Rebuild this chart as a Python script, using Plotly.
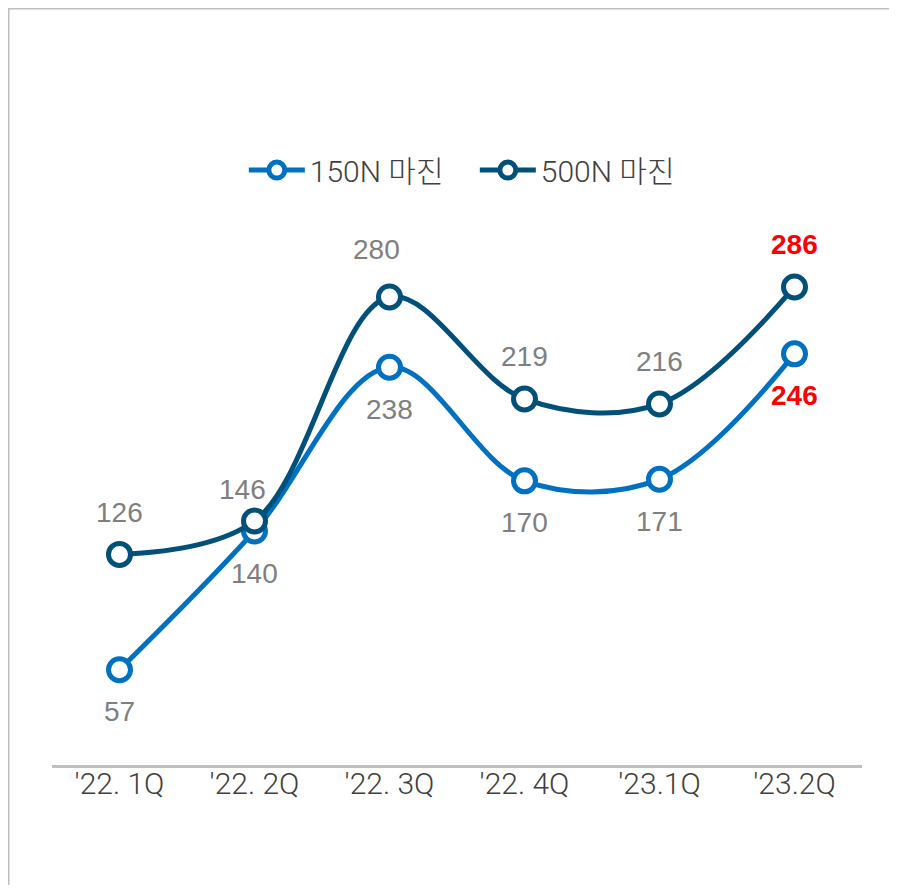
import plotly.graph_objects as go

# données
quarters = ["'22. 1Q", "'22. 2Q", "'22. 3Q", "'22. 4Q", "'23.1Q", "'23.2Q"]
margin_150n = [57, 140, 238, 170, 171, 246]
margin_500n = [126, 146, 280, 219, 216, 286]
series_names = ["150N 마진", "500N 마진"]

color_150 = "#0070C0"
color_500 = "#00507A"
label_gray = "#7F7F7F"
text_dark = "#404040"
font_light = "Roboto, Noto Sans CJK KR, sans-serif"
font_labels = "Liberation Sans, Arial, sans-serif"

fig = go.Figure()

for name, vals, col in [(series_names[0], margin_150n, color_150),
                        (series_names[1], margin_500n, color_500)]:
    fig.add_trace(go.Scatter(
        x=quarters, y=vals, name=name,
        mode="lines+markers",
        line=dict(color=col, width=5, shape="spline", smoothing=1),
        marker=dict(size=22, color="white", line=dict(color=col, width=5)),
    ))

# étiquettes de valeurs
annotations = []
last = len(quarters) - 1
for i, (q, v) in enumerate(zip(quarters, margin_150n)):
    red = i == last
    annotations.append(dict(
        x=q, y=v, xref="x", yref="y", text=f"<b>{v}</b>" if red else str(v),
        showarrow=False, yshift=-42,
        font=dict(family=font_labels, size=28,
                  color="#FF0000" if red else label_gray)))
xshifts = [0, -12, -13, 0, 0, 0]
yshifts = [42, 31, 48, 42, 42, 42]
for i, (q, v) in enumerate(zip(quarters, margin_500n)):
    red = i == last
    annotations.append(dict(
        x=q, y=v, xref="x", yref="y", text=f"<b>{v}</b>" if red else str(v),
        showarrow=False, yshift=yshifts[i], xshift=xshifts[i],
        font=dict(family=font_labels, size=28,
                  color="#FF0000" if red else label_gray)))

# la page ajoute une marge de 8 px autour du graphique
fig.update_layout(
    width=881, height=877,
    paper_bgcolor="white", plot_bgcolor="white",
    margin=dict(l=44, r=27, t=172, b=120),
    font=dict(family=font_light, color=text_dark),
    showlegend=True,
    legend=dict(orientation="h", x=0.522, xanchor="center", y=1.017, yanchor="middle",
                font=dict(size=30, color=text_dark, family=font_light, weight=300),
                itemwidth=56, entrywidth=160, bgcolor="rgba(0,0,0,0)"),
    xaxis=dict(range=[-0.5, 5.5], showgrid=False, zeroline=False,
               showline=True, linecolor="#BFBFBF", linewidth=3,
               ticks="", ticklabelstandoff=-10,
               tickfont=dict(size=30, color=text_dark, family=font_light, weight=300)),
    yaxis=dict(range=[0, 350], showgrid=False, zeroline=False, showline=False,
               showticklabels=False, ticks=""),
    annotations=annotations,
    shapes=[dict(type="rect", xref="paper", yref="paper",
                 x0=-0.0534, x1=3, y0=-3, y1=1.2927,
                 line=dict(color="#BFBFBF", width=1.5), fillcolor="rgba(0,0,0,0)")],
)

fig.write_html("out.html")
